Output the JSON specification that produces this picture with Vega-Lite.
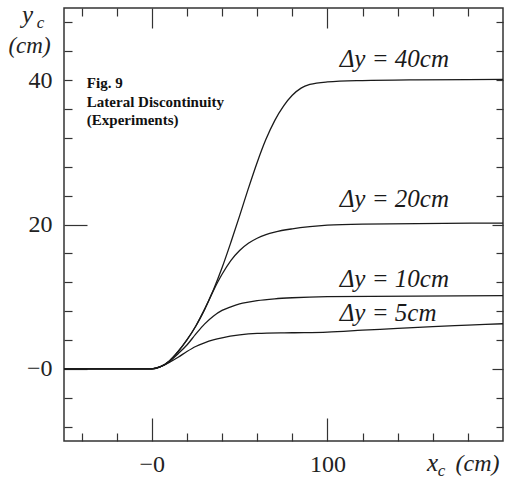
{
  "$schema": "https://vega.github.io/schema/vega-lite/v6.json",
  "width": 439,
  "height": 433,
  "autosize": {"type": "none"},
  "padding": {"left": 64, "top": 8, "right": 7, "bottom": 39},
  "background": "white",
  "config": {
    "view": {"stroke": "#333", "strokeWidth": 1.5},
    "axis": {
      "grid": false,
      "domain": false,
      "labelFont": "Liberation Serif",
      "titleFont": "Liberation Serif",
      "tickColor": "#333",
      "tickWidth": 1.2,
      "labelColor": "#222",
      "titleColor": "#222",
      "titleFontWeight": "normal",
      "labelOverlap": false,
      "labelFlush": false
    }
  },
  "resolve": {"axis": {"x": "independent", "y": "independent"}},
  "layer": [
    {
      "data": {
        "values": [
          {"series": "40", "x": -50, "y": 0}, {"series": "40", "x": 0, "y": 0}, {"series": "40", "x": 5, "y": 0.3}, {"series": "40", "x": 10, "y": 1.1}, {"series": "40", "x": 15, "y": 2.4}, {"series": "40", "x": 20, "y": 4.0}, {"series": "40", "x": 25, "y": 5.9}, {"series": "40", "x": 30, "y": 8.2}, {"series": "40", "x": 35, "y": 10.9}, {"series": "40", "x": 40, "y": 14.0}, {"series": "40", "x": 45, "y": 17.5}, {"series": "40", "x": 50, "y": 21.2}, {"series": "40", "x": 55, "y": 25.0}, {"series": "40", "x": 60, "y": 28.6}, {"series": "40", "x": 65, "y": 31.8}, {"series": "40", "x": 70, "y": 34.4}, {"series": "40", "x": 75, "y": 36.4}, {"series": "40", "x": 80, "y": 37.9}, {"series": "40", "x": 85, "y": 38.9}, {"series": "40", "x": 90, "y": 39.4}, {"series": "40", "x": 100, "y": 39.75}, {"series": "40", "x": 120, "y": 39.95}, {"series": "40", "x": 150, "y": 40.05}, {"series": "40", "x": 200, "y": 40.1},
          {"series": "20", "x": -50, "y": 0}, {"series": "20", "x": 0, "y": 0}, {"series": "20", "x": 5, "y": 0.3}, {"series": "20", "x": 10, "y": 1.1}, {"series": "20", "x": 15, "y": 2.4}, {"series": "20", "x": 20, "y": 4.0}, {"series": "20", "x": 25, "y": 5.9}, {"series": "20", "x": 30, "y": 8.2}, {"series": "20", "x": 35, "y": 10.8}, {"series": "20", "x": 40, "y": 13.1}, {"series": "20", "x": 45, "y": 15.0}, {"series": "20", "x": 50, "y": 16.4}, {"series": "20", "x": 55, "y": 17.4}, {"series": "20", "x": 60, "y": 18.1}, {"series": "20", "x": 65, "y": 18.6}, {"series": "20", "x": 70, "y": 18.95}, {"series": "20", "x": 80, "y": 19.4}, {"series": "20", "x": 90, "y": 19.7}, {"series": "20", "x": 100, "y": 19.9}, {"series": "20", "x": 120, "y": 20.05}, {"series": "20", "x": 200, "y": 20.2},
          {"series": "10", "x": -50, "y": 0}, {"series": "10", "x": 0, "y": 0}, {"series": "10", "x": 5, "y": 0.3}, {"series": "10", "x": 10, "y": 1.0}, {"series": "10", "x": 15, "y": 2.1}, {"series": "10", "x": 20, "y": 3.3}, {"series": "10", "x": 25, "y": 4.8}, {"series": "10", "x": 30, "y": 6.2}, {"series": "10", "x": 35, "y": 7.3}, {"series": "10", "x": 40, "y": 8.1}, {"series": "10", "x": 45, "y": 8.6}, {"series": "10", "x": 50, "y": 9.0}, {"series": "10", "x": 55, "y": 9.25}, {"series": "10", "x": 60, "y": 9.45}, {"series": "10", "x": 70, "y": 9.7}, {"series": "10", "x": 80, "y": 9.85}, {"series": "10", "x": 100, "y": 10.0}, {"series": "10", "x": 200, "y": 10.15},
          {"series": "5", "x": -50, "y": 0}, {"series": "5", "x": 0, "y": 0}, {"series": "5", "x": 5, "y": 0.3}, {"series": "5", "x": 10, "y": 0.9}, {"series": "5", "x": 15, "y": 1.6}, {"series": "5", "x": 20, "y": 2.4}, {"series": "5", "x": 25, "y": 3.1}, {"series": "5", "x": 30, "y": 3.6}, {"series": "5", "x": 35, "y": 4.0}, {"series": "5", "x": 40, "y": 4.3}, {"series": "5", "x": 50, "y": 4.7}, {"series": "5", "x": 60, "y": 4.9}, {"series": "5", "x": 80, "y": 5.0}, {"series": "5", "x": 100, "y": 5.1}, {"series": "5", "x": 120, "y": 5.35}, {"series": "5", "x": 140, "y": 5.6}, {"series": "5", "x": 160, "y": 5.85}, {"series": "5", "x": 180, "y": 6.05}, {"series": "5", "x": 200, "y": 6.25}
        ]
      },
      "mark": {"type": "line", "color": "#1a1a1a", "strokeWidth": 1.3, "interpolate": "monotone"},
      "encoding": {
        "x": {
          "field": "x", "type": "quantitative",
          "scale": {"domain": [-50, 200], "nice": false, "zero": false},
          "axis": {
            "orient": "bottom",
            "values": [-40, -20, 0, 20, 40, 60, 80, 100, 120, 140, 160, 180],
            "tickSize": {"condition": {"test": "datum.value === 0 || datum.value === 100", "value": -23}, "value": -8},
            "labelPadding": 53,
            "labelBaseline": "alphabetic",
            "labelFontSize": 24,
            "labelExpr": "datum.value === 0 ? '−0' : (datum.value === 100 ? '100' : '')",
            "title": "(cm)",
            "titleX": 413, "titleY": 29,
            "titleAlign": "center", "titleBaseline": "alphabetic",
            "titleFontSize": 24, "titleFontStyle": "italic"
          }
        },
        "y": {
          "field": "y", "type": "quantitative",
          "scale": {"domain": [-10, 50], "nice": false, "zero": false},
          "axis": {
            "orient": "left",
            "values": [-8, -4, 0, 4, 8, 12, 16, 20, 24, 28, 32, 36, 40, 44, 48],
            "tickSize": {"condition": {"test": "datum.value === 0 || datum.value === 20", "value": -23}, "value": -8},
            "labelPadding": {"condition": {"test": "datum.value === 0 || datum.value === 20", "value": 35}, "value": 20},
            "labelBaseline": "middle",
            "labelFontSize": 24,
            "labelExpr": "datum.value === 0 ? '−0' : ((datum.value === 20 || datum.value === 40) ? datum.label : '')",
            "title": "(cm)",
            "titleX": -35, "titleY": 44, "titleAngle": 0,
            "titleAlign": "center", "titleBaseline": "alphabetic",
            "titleFontSize": 23, "titleFontStyle": "italic"
          }
        },
        "detail": {"field": "series", "type": "nominal"}
      }
    },
    {
      "data": {
        "values": [
          {"label": "Δy = 40cm", "x": 107, "y": 41.8},
          {"label": "Δy = 20cm", "x": 107, "y": 22.4},
          {"label": "Δy = 10cm", "x": 107, "y": 11.4},
          {"label": "Δy = 5cm", "x": 107, "y": 6.6}
        ]
      },
      "mark": {"type": "text", "font": "Liberation Serif", "fontSize": 25, "fontStyle": "italic", "align": "left", "baseline": "alphabetic", "color": "#1a1a1a"},
      "encoding": {
        "x": {
          "field": "x", "type": "quantitative",
          "axis": {
            "orient": "top",
            "values": [-40, -20, 0, 20, 40, 60, 80, 100, 120, 140, 160, 180],
            "tickSize": {"condition": {"test": "datum.value === 0 || datum.value === 100", "value": -20}, "value": -8},
            "labels": false,
            "title": "x",
            "titleX": 368, "titleY": 462,
            "titleAlign": "center", "titleBaseline": "alphabetic",
            "titleFontSize": 25, "titleFontStyle": "italic"
          }
        },
        "y": {
          "field": "y", "type": "quantitative",
          "axis": {
            "orient": "right",
            "values": [-8, -4, 0, 4, 8, 12, 16, 20, 24, 28, 32, 36, 40, 44, 48],
            "tickSize": {"condition": {"test": "datum.value === 0 || datum.value === 20", "value": -11}, "value": -7},
            "labels": false,
            "title": "y",
            "titleX": -476, "titleY": 14, "titleAngle": 0,
            "titleAlign": "center", "titleBaseline": "alphabetic",
            "titleFontSize": 25, "titleFontStyle": "italic"
          }
        },
        "text": {"field": "label", "type": "nominal"}
      }
    },
    {
      "data": {
        "values": [
          {"note": "Fig. 9\nLateral Discontinuity\n(Experiments)", "x": -37, "y": 38.9}
        ]
      },
      "mark": {"type": "text", "font": "Liberation Serif", "fontSize": 15, "fontWeight": "bold", "align": "left", "baseline": "alphabetic", "lineBreak": "\n", "lineHeight": 18.5, "color": "#111"},
      "encoding": {
        "x": {
          "field": "x", "type": "quantitative",
          "axis": {
            "orient": "bottom", "ticks": false, "labels": false,
            "title": "c",
            "titleX": 377, "titleY": 34,
            "titleAlign": "center", "titleBaseline": "alphabetic",
            "titleFontSize": 17, "titleFontStyle": "italic"
          }
        },
        "y": {
          "field": "y", "type": "quantitative",
          "axis": {
            "orient": "left", "ticks": false, "labels": false,
            "title": "c",
            "titleX": -24, "titleY": 19, "titleAngle": 0,
            "titleAlign": "center", "titleBaseline": "alphabetic",
            "titleFontSize": 17, "titleFontStyle": "italic"
          }
        },
        "text": {"field": "note", "type": "nominal"}
      }
    }
  ]
}
